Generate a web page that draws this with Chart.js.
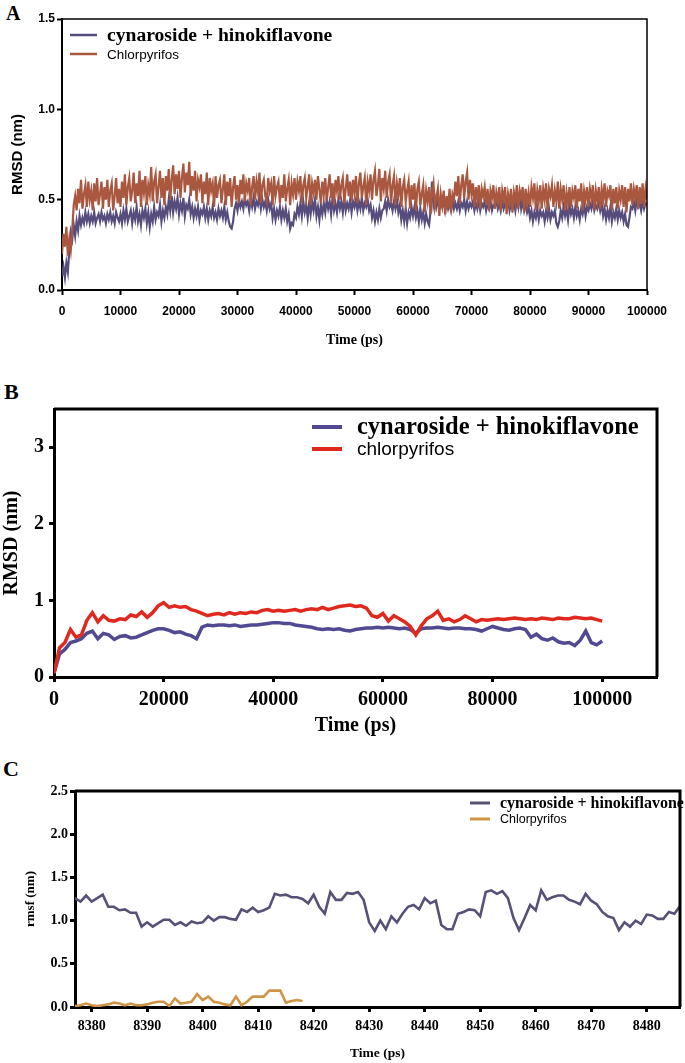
<!DOCTYPE html>
<html>
<head>
<meta charset="utf-8">
<script src="https://cdn.jsdelivr.net/npm/chart.js@4.4.1/dist/chart.umd.min.js"></script>
<style>
  body { margin: 0; background: #fff; width: 685px; height: 1063px; position: relative; overflow: hidden; }
  .panel { position: absolute; left: 0; width: 685px; }
  .letter { position: absolute; font-family: 'Liberation Serif', serif; font-weight: bold; line-height: 1; color: #000; }
</style>
</head>
<body>
<div class="letter" style="left:6px;top:3px;font-size:20px">A</div>
<div class="letter" style="left:4px;top:381px;font-size:22px">B</div>
<div class="letter" style="left:3px;top:758px;font-size:22px">C</div>

<div class="panel" style="top:0;height:360px"><canvas id="chartA" width="685" height="360"></canvas></div>
<div class="panel" style="top:370px;height:370px"><canvas id="chartB" width="685" height="370"></canvas></div>
<div class="panel" style="top:740px;height:323px"><canvas id="chartC" width="685" height="323"></canvas></div>

<script>
// ---- Panel A : RMSD, one value every 250 ps (10 per row = 2500 ps) ----
const aStep = 250;
const aBlue = [
  0.08, 0.13, 0.07, 0.15, 0.10, 0.22, 0.32, 0.28, 0.36, 0.30,
  0.38, 0.33, 0.41, 0.36, 0.40, 0.37, 0.43, 0.38, 0.42, 0.37,
  0.41, 0.38, 0.43, 0.37, 0.40, 0.42, 0.38, 0.43, 0.39, 0.41,
  0.37, 0.42, 0.39, 0.43, 0.38, 0.41, 0.37, 0.43, 0.40, 0.38,
  0.42, 0.37, 0.44, 0.39, 0.45, 0.38, 0.41, 0.44, 0.37, 0.43,
  0.39, 0.46, 0.38, 0.42, 0.36, 0.44, 0.40, 0.45, 0.37, 0.43,
  0.35, 0.42, 0.38, 0.46, 0.39, 0.43, 0.41, 0.47, 0.38, 0.44,
  0.40, 0.46, 0.42, 0.50, 0.44, 0.52, 0.43, 0.49, 0.45, 0.51,
  0.42, 0.48, 0.44, 0.51, 0.41, 0.47, 0.45, 0.50, 0.42, 0.46,
  0.40, 0.45, 0.41, 0.46, 0.39, 0.44, 0.42, 0.46, 0.40, 0.45,
  0.39, 0.44, 0.41, 0.46, 0.40, 0.43, 0.39, 0.45, 0.41, 0.44,
  0.40, 0.46, 0.39, 0.43, 0.38, 0.35, 0.34, 0.38, 0.45, 0.48,
  0.44, 0.50, 0.46, 0.49, 0.45, 0.51, 0.47, 0.49, 0.44, 0.50,
  0.46, 0.51, 0.45, 0.49, 0.47, 0.52, 0.45, 0.50, 0.46, 0.49,
  0.44, 0.50, 0.45, 0.48, 0.40, 0.45, 0.39, 0.44, 0.41, 0.46,
  0.39, 0.44, 0.40, 0.45, 0.38, 0.42, 0.34, 0.37, 0.36, 0.42,
  0.40, 0.46, 0.42, 0.48, 0.41, 0.49, 0.43, 0.47, 0.40, 0.48,
  0.42, 0.49, 0.44, 0.50, 0.41, 0.46, 0.39, 0.47, 0.42, 0.48,
  0.43, 0.50, 0.45, 0.49, 0.42, 0.51, 0.44, 0.48, 0.43, 0.50,
  0.45, 0.49, 0.43, 0.51, 0.44, 0.48, 0.45, 0.50, 0.43, 0.49,
  0.46, 0.50, 0.44, 0.49, 0.45, 0.51, 0.44, 0.48, 0.46, 0.50,
  0.44, 0.47, 0.40, 0.44, 0.38, 0.43, 0.39, 0.45, 0.40, 0.44,
  0.45, 0.49, 0.44, 0.50, 0.46, 0.48, 0.44, 0.49, 0.45, 0.50,
  0.43, 0.47, 0.39, 0.44, 0.38, 0.45, 0.37, 0.43, 0.40, 0.46,
  0.41, 0.46, 0.40, 0.44, 0.38, 0.45, 0.39, 0.43, 0.37, 0.42,
  0.38, 0.36, 0.44, 0.60, 0.47, 0.51, 0.46, 0.50, 0.45, 0.49,
  0.46, 0.50, 0.44, 0.49, 0.45, 0.48, 0.44, 0.50, 0.45, 0.48,
  0.45, 0.49, 0.44, 0.48, 0.46, 0.50, 0.44, 0.49, 0.45, 0.48,
  0.46, 0.49, 0.44, 0.48, 0.45, 0.50, 0.44, 0.48, 0.46, 0.49,
  0.44, 0.48, 0.45, 0.49, 0.44, 0.47, 0.46, 0.50, 0.45, 0.48,
  0.44, 0.49, 0.45, 0.48, 0.46, 0.50, 0.44, 0.48, 0.45, 0.49,
  0.44, 0.50, 0.46, 0.54, 0.45, 0.49, 0.44, 0.48, 0.43, 0.46,
  0.40, 0.44, 0.38, 0.43, 0.40, 0.45, 0.39, 0.44, 0.41, 0.43,
  0.38, 0.44, 0.40, 0.45, 0.39, 0.43, 0.41, 0.44, 0.37, 0.35,
  0.38, 0.44, 0.40, 0.46, 0.41, 0.45, 0.39, 0.47, 0.42, 0.45,
  0.40, 0.46, 0.41, 0.44, 0.39, 0.45, 0.42, 0.47, 0.41, 0.46,
  0.44, 0.48, 0.45, 0.49, 0.44, 0.47, 0.45, 0.49, 0.44, 0.48,
  0.41, 0.45, 0.39, 0.44, 0.40, 0.46, 0.38, 0.43, 0.40, 0.45,
  0.39, 0.44, 0.40, 0.43, 0.38, 0.42, 0.36, 0.35, 0.40, 0.46,
  0.45, 0.49, 0.44, 0.50, 0.46, 0.48, 0.44, 0.49, 0.45, 0.48,
  0.47
];
const aOrange = [
  0.20, 0.31, 0.24, 0.35, 0.19, 0.28, 0.22, 0.33, 0.47, 0.52,
  0.44, 0.56, 0.48, 0.61, 0.45, 0.53, 0.58, 0.46, 0.60, 0.50,
  0.55, 0.44, 0.59, 0.49, 0.62, 0.47, 0.53, 0.60, 0.45, 0.57,
  0.50, 0.61, 0.46, 0.55, 0.59, 0.44, 0.52, 0.62, 0.48, 0.56,
  0.46, 0.60, 0.51, 0.64, 0.47, 0.57, 0.62, 0.49, 0.55, 0.65,
  0.48, 0.59, 0.52, 0.66, 0.46, 0.61, 0.54, 0.63, 0.47, 0.58,
  0.53, 0.68, 0.49, 0.60, 0.64, 0.48, 0.57, 0.66, 0.51, 0.62,
  0.47, 0.63, 0.55, 0.67, 0.50, 0.61, 0.69, 0.53, 0.64, 0.56,
  0.66, 0.51, 0.62, 0.70, 0.54, 0.65, 0.58, 0.71, 0.52, 0.63,
  0.55, 0.66, 0.49, 0.61, 0.57, 0.64, 0.48, 0.60, 0.53, 0.65,
  0.47, 0.62, 0.55, 0.59, 0.46, 0.63, 0.51, 0.58, 0.61, 0.48,
  0.56, 0.64, 0.47, 0.60, 0.52, 0.62, 0.46, 0.57, 0.63, 0.50,
  0.58, 0.48, 0.61, 0.53, 0.64, 0.49, 0.59, 0.55, 0.62, 0.47,
  0.57, 0.63, 0.50, 0.60, 0.54, 0.65, 0.48, 0.58, 0.61, 0.52,
  0.49, 0.62, 0.55, 0.59, 0.47, 0.63, 0.52, 0.57, 0.60, 0.48,
  0.58, 0.51, 0.64, 0.49, 0.56, 0.61, 0.47, 0.59, 0.53, 0.62,
  0.50, 0.60, 0.55, 0.63, 0.48, 0.58, 0.62, 0.51, 0.57, 0.64,
  0.47, 0.59, 0.54, 0.61, 0.50, 0.63, 0.56, 0.48, 0.60, 0.53,
  0.62, 0.49, 0.57, 0.64, 0.51, 0.59, 0.47, 0.61, 0.55, 0.63,
  0.50, 0.58, 0.62, 0.48, 0.56, 0.64, 0.52, 0.60, 0.49, 0.61,
  0.54, 0.63, 0.48, 0.59, 0.65, 0.51, 0.57, 0.62, 0.47, 0.60,
  0.55, 0.64, 0.50, 0.61, 0.66, 0.52, 0.58, 0.67, 0.49, 0.62,
  0.56, 0.66, 0.51, 0.60, 0.64, 0.48, 0.58, 0.63, 0.47, 0.59,
  0.53, 0.62, 0.46, 0.57, 0.61, 0.49, 0.55, 0.60, 0.45, 0.58,
  0.50, 0.59, 0.44, 0.56, 0.60, 0.47, 0.53, 0.58, 0.43, 0.55,
  0.49, 0.57, 0.42, 0.54, 0.59, 0.46, 0.51, 0.56, 0.41, 0.53,
  0.47, 0.55, 0.42, 0.52, 0.45, 0.56, 0.43, 0.53, 0.50, 0.60,
  0.52, 0.63, 0.48, 0.58, 0.64, 0.51, 0.60, 0.65, 0.50, 0.61,
  0.53, 0.59, 0.46, 0.57, 0.50, 0.58, 0.45, 0.56, 0.52, 0.57,
  0.47, 0.56, 0.44, 0.55, 0.51, 0.58, 0.45, 0.54, 0.49, 0.57,
  0.44, 0.55, 0.50, 0.57, 0.42, 0.53, 0.48, 0.56, 0.43, 0.54,
  0.49, 0.58, 0.45, 0.55, 0.51, 0.57, 0.43, 0.56, 0.48, 0.54,
  0.46, 0.57, 0.51, 0.59, 0.44, 0.55, 0.49, 0.58, 0.45, 0.56,
  0.50, 0.59, 0.44, 0.56, 0.52, 0.58, 0.46, 0.55, 0.49, 0.60,
  0.45, 0.56, 0.50, 0.58, 0.44, 0.54, 0.48, 0.57, 0.46, 0.55,
  0.51, 0.58, 0.45, 0.56, 0.49, 0.59, 0.44, 0.55, 0.50, 0.57,
  0.46, 0.56, 0.51, 0.58, 0.44, 0.55, 0.49, 0.57, 0.45, 0.56,
  0.50, 0.59, 0.46, 0.55, 0.52, 0.58, 0.44, 0.56, 0.48, 0.57,
  0.45, 0.55, 0.50, 0.58, 0.46, 0.57, 0.43, 0.56, 0.49, 0.59,
  0.47, 0.56, 0.51, 0.58, 0.45, 0.57, 0.48, 0.59, 0.46, 0.56,
  0.50
];

// ---- Panel B : RMSD, one value every 1000 ps ----
const bStep = 1000;
const bBlue = [
  0.05, 0.30, 0.36, 0.45, 0.47, 0.50, 0.57, 0.60, 0.50, 0.57,
  0.55, 0.49, 0.53, 0.54, 0.51, 0.52, 0.55, 0.58, 0.61, 0.63,
  0.63, 0.61, 0.58, 0.59, 0.56, 0.54, 0.50, 0.65, 0.68, 0.67,
  0.68, 0.68, 0.67, 0.68, 0.66, 0.67, 0.68, 0.68, 0.69, 0.70,
  0.71, 0.71, 0.70, 0.70, 0.68, 0.67, 0.66, 0.65, 0.63, 0.62,
  0.63, 0.62, 0.63, 0.61, 0.60, 0.62, 0.63, 0.64, 0.64, 0.65,
  0.64, 0.65, 0.64, 0.63, 0.64, 0.62, 0.57, 0.63, 0.64, 0.64,
  0.65, 0.64, 0.63, 0.64, 0.64, 0.63, 0.63, 0.62, 0.60, 0.63,
  0.66, 0.64, 0.62, 0.61, 0.63, 0.64, 0.62, 0.52, 0.56, 0.50,
  0.48, 0.51, 0.46, 0.44, 0.45, 0.41, 0.48, 0.60, 0.45, 0.42,
  0.47
];
const bRed = [
  0.05, 0.38, 0.45, 0.62, 0.52, 0.55, 0.74, 0.84, 0.72, 0.80,
  0.74, 0.73, 0.76, 0.75, 0.81, 0.79, 0.85, 0.78, 0.84, 0.93,
  0.97, 0.91, 0.93, 0.91, 0.92, 0.88, 0.86, 0.83, 0.80, 0.82,
  0.83, 0.81, 0.84, 0.82, 0.84, 0.83, 0.85, 0.84, 0.87, 0.88,
  0.86, 0.87, 0.86, 0.87, 0.88, 0.86, 0.88, 0.89, 0.88, 0.91,
  0.88, 0.90, 0.92, 0.93, 0.94, 0.92, 0.93, 0.90, 0.80, 0.78,
  0.83, 0.73, 0.80, 0.76, 0.72, 0.66, 0.55, 0.67, 0.76, 0.80,
  0.86, 0.74, 0.76, 0.72, 0.75, 0.80, 0.76, 0.72, 0.75, 0.74,
  0.75, 0.76, 0.75, 0.76, 0.77, 0.76, 0.75, 0.76, 0.75, 0.77,
  0.76, 0.75, 0.77, 0.76, 0.76, 0.78, 0.77, 0.76, 0.77, 0.75,
  0.73
];
const bXTicks = [0, 20000, 40000, 60000, 80000, 100000];
const bYTicks = [0, 1, 2, 3];

// ---- Panel C : rmsf, one value per ps from 8377 ----
const cStart = 8377;
const cBlue = [
  1.26, 1.22, 1.29, 1.22, 1.26, 1.30, 1.16, 1.16, 1.12, 1.13,
  1.09, 1.09, 0.93, 0.98, 0.93, 0.97, 1.01, 1.01, 0.95, 0.98,
  0.94, 0.99, 0.97, 0.98, 1.05, 1.00, 1.04, 1.04, 1.02, 1.01,
  1.13, 1.10, 1.15, 1.10, 1.12, 1.15, 1.31, 1.29, 1.30, 1.27,
  1.27, 1.25, 1.20, 1.30, 1.16, 1.08, 1.33, 1.24, 1.24, 1.32,
  1.31, 1.33, 1.24, 0.98, 0.88, 1.00, 0.90, 1.05, 0.98, 1.08,
  1.16, 1.18, 1.13, 1.26, 1.20, 1.23, 0.95, 0.90, 0.90, 1.08,
  1.10, 1.13, 1.12, 1.05, 1.33, 1.35, 1.31, 1.34, 1.26, 1.03,
  0.89, 1.03, 1.18, 1.12, 1.35, 1.24, 1.27, 1.29, 1.29, 1.24,
  1.22, 1.19, 1.31, 1.23, 1.19, 1.10, 1.05, 1.03, 0.89, 0.98,
  0.93, 1.00, 0.96, 1.07, 1.06, 1.02, 1.02, 1.10, 1.08, 1.17
];
const cOrange = [
  0.01, 0.02, 0.04, 0.02, 0.01, 0.02, 0.03, 0.05, 0.04, 0.02,
  0.04, 0.02, 0.02, 0.03, 0.05, 0.06, 0.06, 0.01, 0.10, 0.04,
  0.05, 0.06, 0.15, 0.08, 0.12, 0.06, 0.05, 0.03, 0.02, 0.12,
  0.02, 0.06, 0.12, 0.12, 0.12, 0.19, 0.19, 0.19, 0.05, 0.07,
  0.08, 0.07
];
const cTicks = [8380, 8390, 8400, 8410, 8420, 8430, 8440, 8450, 8460, 8470, 8480];

const serif = "'Liberation Serif', 'Times New Roman', serif";
const sans = "'Liberation Sans', Arial, sans-serif";

// legend drawn inside the plot box
const insideLegend = {
  id: 'insideLegend',
  afterDraw(chart, args, opts) {
    const ctx = chart.ctx;
    ctx.save();
    chart.data.datasets.forEach((ds, i) => {
      const y = opts.rows[i];
      ctx.strokeStyle = ds.borderColor;
      ctx.lineWidth = opts.markWidth;
      ctx.beginPath();
      ctx.moveTo(opts.markX[0], y);
      ctx.lineTo(opts.markX[1], y);
      ctx.stroke();
      ctx.fillStyle = '#000';
      ctx.font = opts.fonts[i];
      ctx.textBaseline = 'middle';
      ctx.fillText(ds.label, opts.textX, y + 1);
    });
    ctx.restore();
  }
};

// top and right sides of the box
const frameBox = {
  id: 'frameBox',
  afterDatasetsDraw(chart, args, opts) {
    const { ctx, chartArea: a } = chart;
    ctx.save();
    ctx.strokeStyle = '#000';
    ctx.lineWidth = opts.width;
    ctx.beginPath();
    ctx.moveTo(a.left, a.top);
    ctx.lineTo(a.right, a.top);
    ctx.lineTo(a.right, a.bottom);
    ctx.stroke();
    ctx.restore();
  }
};

function toPoints(values, start, step) {
  return values.map((v, i) => ({ x: start + i * step, y: v }));
}

function axis(o) {
  return {
    type: 'linear',
    min: o.min,
    max: o.max,
    ticks: {
      stepSize: o.step,
      color: '#000',
      padding: o.pad,
      font: o.tickFont,
      maxRotation: 0,
      autoSkip: false,
      callback: o.fmt
    },
    grid: { drawOnChartArea: false, drawTicks: true, tickLength: 5, tickColor: '#000', tickWidth: o.line },
    border: { color: '#000', width: o.line },
    title: { display: true, text: o.title, color: '#000', font: o.titleFont, padding: o.titlePad },
    afterFit: o.fit,
    afterBuildTicks: o.list ? s => { s.ticks = o.list.map(v => ({ value: v })); } : undefined
  };
}

Chart.defaults.animation = false;

// ---------- A ----------
new Chart(document.getElementById('chartA'), {
  type: 'line',
  data: {
    datasets: [
      { label: 'cynaroside + hinokiflavone', data: toPoints(aBlue, 0, aStep), borderColor: '#574d7d', borderWidth: 2.2, pointRadius: 0, order: 1 },
      { label: 'Chlorpyrifos', data: toPoints(aOrange, 0, aStep), borderColor: '#a9573e', borderWidth: 2.2, pointRadius: 0, order: 0 }
    ]
  },
  options: {
    responsive: false,
    layout: { padding: { top: 19, right: 38, bottom: 0, left: 0 } },
    plugins: {
      legend: { display: false }, tooltip: { enabled: false },
      insideLegend: { rows: [35, 54], markX: [70, 97], markWidth: 2.5, textX: 107,
        fonts: ['bold 19.6px ' + serif, '13.5px ' + sans] },
      frameBox: { width: 1.5 }
    },
    scales: {
      x: axis({ min: 0, max: 100000, step: 10000, pad: 9, line: 2,
        tickFont: { family: sans, size: 12, weight: 'bold' }, fmt: v => String(v),
        title: 'Time (ps)', titleFont: { family: serif, size: 14, weight: 'bold', lineHeight: 1 },
        titlePad: { top: 0, bottom: 13 }, fit: s => { s.height = 70; } }),
      y: axis({ min: 0, max: 1.5, step: 0.5, pad: 2, line: 2,
        tickFont: { family: sans, size: 12, weight: 'bold' }, fmt: v => v.toFixed(1),
        title: 'RMSD (nm)', titleFont: { family: sans, size: 15, weight: 'bold', lineHeight: 1 },
        titlePad: { top: 10, bottom: 0 }, fit: s => { s.width = 62; } })
    }
  },
  plugins: [insideLegend, frameBox]
});

// ---------- B ----------
new Chart(document.getElementById('chartB'), {
  type: 'line',
  data: {
    datasets: [
      { label: 'cynaroside + hinokiflavone', data: toPoints(bBlue, 0, bStep), borderColor: '#514a92', borderWidth: 3.5, pointRadius: 0, order: 1 },
      { label: 'chlorpyrifos', data: toPoints(bRed, 0, bStep), borderColor: '#e0291e', borderWidth: 3.5, pointRadius: 0, order: 0 }
    ]
  },
  options: {
    responsive: false,
    layout: { padding: { top: 39, right: 28, bottom: 0, left: 0 } },
    plugins: {
      legend: { display: false }, tooltip: { enabled: false },
      insideLegend: { rows: [57, 79], markX: [312, 342], markWidth: 4, textX: 357,
        fonts: ['bold 24.5px ' + serif, '19px ' + sans] },
      frameBox: { width: 3 }
    },
    scales: {
      x: axis({ min: 0, max: 110000, step: 20000, pad: 6, line: 3, list: bXTicks,
        tickFont: { family: serif, size: 20, weight: 'bold' }, fmt: v => String(v),
        title: 'Time (ps)', titleFont: { family: serif, size: 20, weight: 'bold', lineHeight: 1 },
        titlePad: { top: 0, bottom: 4 }, fit: s => { s.height = 63; } }),
      y: axis({ min: 0, max: 3.5, step: 1, pad: 5, line: 3, list: bYTicks,
        tickFont: { family: serif, size: 20, weight: 'bold' }, fmt: v => String(v),
        title: 'RMSD (nm)', titleFont: { family: serif, size: 20, weight: 'bold', lineHeight: 1 },
        titlePad: { top: 2, bottom: 0 }, fit: s => { s.width = 54; } })
    }
  },
  plugins: [insideLegend, frameBox]
});

// ---------- C ----------
new Chart(document.getElementById('chartC'), {
  type: 'line',
  data: {
    datasets: [
      { label: 'cynaroside + hinokiflavone', data: toPoints(cBlue, cStart, 1), borderColor: '#585077', borderWidth: 2.6, pointRadius: 0 },
      { label: 'Chlorpyrifos', data: toPoints(cOrange, cStart, 1), borderColor: '#d09446', borderWidth: 2.6, pointRadius: 0 }
    ]
  },
  options: {
    responsive: false,
    layout: { padding: { top: 51, right: 5, bottom: 0, left: 0 } },
    plugins: {
      legend: { display: false }, tooltip: { enabled: false },
      insideLegend: { rows: [63, 79], markX: [470, 490], markWidth: 3, textX: 500,
        fonts: ['bold 16px ' + serif, '12.5px ' + sans] },
      frameBox: { width: 3 }
    },
    scales: {
      x: axis({ min: 8377, max: 8486, step: 10, pad: 6, line: 3, list: cTicks,
        tickFont: { family: serif, size: 14, weight: 'bold' }, fmt: v => String(v),
        title: 'Time (ps)', titleFont: { family: serif, size: 13.5, weight: 'bold', lineHeight: 1 },
        titlePad: { top: 0, bottom: 3 }, fit: s => { s.height = 56; } }),
      y: axis({ min: 0, max: 2.5, step: 0.5, pad: 2, line: 3,
        tickFont: { family: serif, size: 14, weight: 'bold' }, fmt: v => v.toFixed(1),
        title: 'rmsf (nm)', titleFont: { family: serif, size: 13, weight: 'bold', lineHeight: 1 },
        titlePad: { top: 24, bottom: 0 }, fit: s => { s.width = 75; } })
    }
  },
  plugins: [insideLegend, frameBox]
});
</script>
</body>
</html>
